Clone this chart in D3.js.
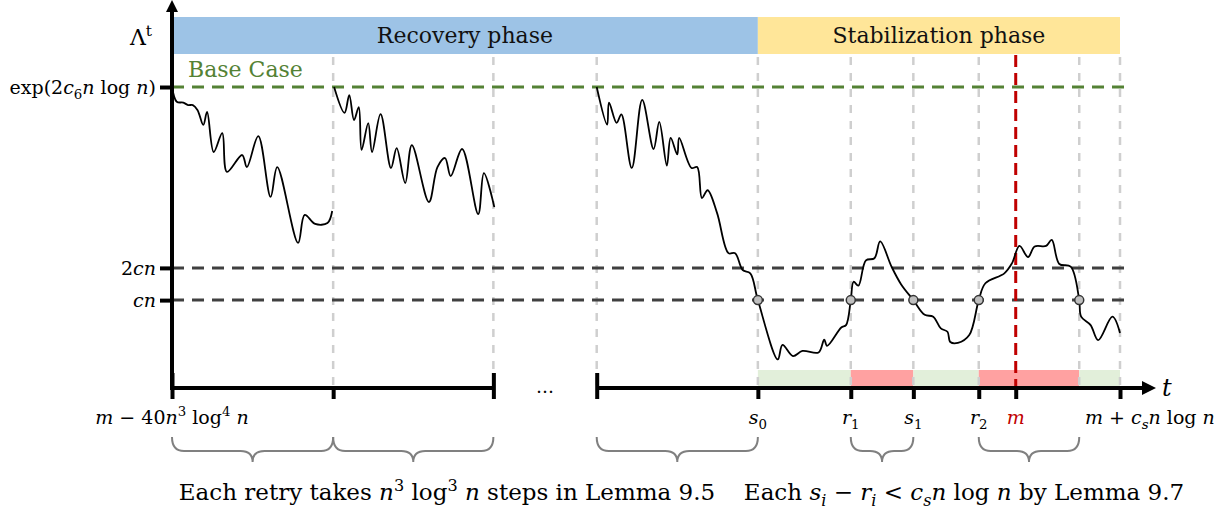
<!DOCTYPE html>
<html>
<head>
<meta charset="utf-8">
<script src="https://cdn.jsdelivr.net/npm/d3@7"></script>
<style>
  body { margin: 0; background: #fff; }
</style>
</head>
<body>
<div id="chart"></div>
<script>
// chart data (t runs 0..100 along the broken time axis, value 0..100 up the Λ axis)
var retry1 = [[0,100],[0.5,95.1],[1.2,94.8],[1.7,94.0],[2.2,94.0],[2.7,92.3],[3.3,87.4],[3.7,91.7],
  [4.4,78.4],[5.3,84.7],[5.8,71.8],[7.4,77.4],[7.9,73.4],[9.1,83.7],[10.4,63.5],[11.1,73.4],
  [13.3,48.2],[14.0,57.5],[15.1,54.5],[16.4,54.8],[16.9,58.8]];
var retry2 = [[17.1,100],[18.2,91.4],[18.7,97.3],[19.2,89.0],[19.7,93.3],[20.0,79.1],[20.7,88.0],
  [21.1,78.4],[22.0,91.0],[23.1,73.1],[23.7,79.7],[24.6,68.1],[25.3,80.7],[27.1,61.8],[28.0,73.4],
  [28.8,76.4],[29.4,70.4],[30.6,79.4],[32.3,57.8],[32.9,71.4],[34.0,60.1]];
var lastRun = [[44.8,100],[45.9,87.5],[46.1,94.8],[46.9,88.1],[47.4,90.9],[48.5,73.1],[49.6,95.7],
  [50.8,79.4],[51.4,88.4],[52.2,73.9],[52.6,83.1],[53.3,77.6],[53.5,83.1],[54.8,73.1],[55.4,73.4],
  [55.9,63.1],[56.5,65.7],[57.5,58.1],[58.7,44.8],[59.4,44.8],[60.2,39.2],[61.0,38.1],[61.8,29.2],
  [63.9,9.5],[64.4,14.3],[65.5,10.6],[66.5,12.3],[68.2,11.8],[68.8,16.1],[69.1,14.0],[70.6,20.1],
  [71.1,20.9],[71.6,29.2],[71.9,35.3],[72.4,34.0],[73.2,42.4],[74.1,43.1],[74.7,48.7],[75.9,40.3],
  [76.9,34.5],[78.2,29.2],[79.4,24.3],[80.3,23.7],[81.1,19.8],[81.8,18.7],[82.1,15.3],[82.9,15.0],
  [84.1,17.6],[85.1,29.2],[85.8,34.8],[87.8,38.1],[88.6,41.4],[89.4,47.2],[90.3,43.5],[91.0,47.0],
  [92.2,47.2],[92.8,49.2],[93.6,41.2],[94.8,40.3],[95.7,29.2],[95.9,23.7],[96.9,20.9],[97.7,15.9],
  [99.2,23.7],[100,18.3]];

var levelValues = [100, 39.9, 29.2];          // exp(2c6 n log n), 2cn, cn
var crossings = [61.8, 71.6, 78.2, 85.1, 95.7]; // where the walk meets cn
var gridTimes = [17, 33.9, 44.8, 61.8, 71.6, 78.2, 85.1, 95.7, 100];
var mTime = 89.0;
var axisSegments = [[0, 33.9], [44.8, 100]];
var fullTicks = [0, 33.9, 44.8];
var lowTicks = [17, 61.8, 71.6, 78.2, 85.1, 89.0, 100];
var phases = [
  {name: "Recovery phase", from: 0, to: 61.8, color: "#9dc3e6"},
  {name: "Stabilization phase", from: 61.8, to: 100, color: "#ffe699"}
];
var intervals = [[61.8,71.6,"good"],[71.6,78.2,"bad"],[78.2,85.1,"good"],[85.1,95.7,"bad"],[95.7,100,"good"]];
var braces = [[0,17],[17,33.9],[44.8,61.8],[71.6,78.2],[85.1,95.7]];

// tick / level labels as [text, style] parts
var levelLabels = [
  [["exp(2"],["c","i"],["6","sub"],["n","i"],[" log "],["n","i"],[")"]],
  [["2"],["cn","i"]],
  [["cn","i"]]
];
var tickLabels = [
  {t: 0, anchor: "middle", dx: 0, parts: [["m","i"],[" − 40"],["n","i"],["3","sup"],[" log"],["4","sup"],[" "],["n","i"]]},
  {t: 61.8, anchor: "middle", dx: 0, parts: [["s","i"],["0","sub"]]},
  {t: 71.6, anchor: "middle", dx: 0, parts: [["r","i"],["1","sub"]]},
  {t: 78.2, anchor: "middle", dx: 0, parts: [["s","i"],["1","sub"]]},
  {t: 85.1, anchor: "middle", dx: 0, parts: [["r","i"],["2","sub"]]},
  {t: 89.0, anchor: "middle", dx: 0, red: true, parts: [["m","i"]]},
  {t: 100, anchor: "start", dx: -35, parts: [["m","i"],[" + "],["c","i"],["s","subi"],["n","i"],[" log "],["n","i"]]}
];
var captions = [
  {x: 447, parts: [["Each retry takes "],["n","i"],["3","sup"],[" log"],["3","sup"],[" "],["n","i"],[" steps in Lemma 9.5"]]},
  {x: 964, parts: [["Each "],["s","i"],["i","subi"],[" − "],["r","i"],["i","subi"],[" < "],["c","i"],["s","subi"],["n","i"],[" log "],["n","i"],[" by Lemma 9.7"]]}
];

var svgWidth = 1224;
var svgHeight = 511;

var svg = d3.select("#chart")
    .append("svg")
    .attr("width", svgWidth)
    .attr("height", svgHeight)
    .attr("font-family", "DejaVu Serif");

var xScale = d3.scaleLinear().domain([0, 100]).range([172, 1120]);
var yScale = d3.scaleLinear().domain([0, 100]).range([388, 87]);

// rich text helper: italic, sub and superscripts
function rich(textSel, parts, size) {
  var shift = 0;
  parts.forEach(function (p) {
    var style = p[1] || "";
    var target = 0;
    var ts = textSel.append("tspan").text(p[0]);
    if (style === "i" || style === "subi") ts.attr("font-style", "italic");
    if (style === "sub" || style === "subi") { target = size * 0.28; ts.attr("font-size", size * 0.7); }
    if (style === "sup") { target = -size * 0.4; ts.attr("font-size", size * 0.7); }
    ts.attr("dy", target - shift);
    shift = target;
  });
}

// phase bands
svg.selectAll(".phase")
    .data(phases)
    .enter()
    .append("rect")
    .attr("x", d => xScale(d.from))
    .attr("y", 17)
    .attr("width", d => xScale(d.to) - xScale(d.from))
    .attr("height", 37)
    .attr("fill", d => d.color);

svg.selectAll(".phaseText")
    .data(phases)
    .enter()
    .append("text")
    .attr("x", d => (xScale(d.from) + xScale(d.to)) / 2)
    .attr("y", 43)
    .attr("text-anchor", "middle")
    .attr("font-size", "22px")
    .attr("fill", "#111")
    .text(d => d.name);

// good / bad intervals
svg.selectAll(".interval")
    .data(intervals)
    .enter()
    .append("rect")
    .attr("x", d => xScale(d[0]))
    .attr("y", 370)
    .attr("width", d => xScale(d[1]) - xScale(d[0]))
    .attr("height", 17)
    .attr("fill", d => d[2] === "good" ? "#e2efda" : "#ffa1a1");

// vertical grey guides
svg.selectAll(".guide")
    .data(gridTimes)
    .enter()
    .append("line")
    .attr("x1", d => xScale(d))
    .attr("x2", d => xScale(d))
    .attr("y1", 57)
    .attr("y2", yScale(0))
    .attr("stroke", "#cfcfcf")
    .attr("stroke-width", 2.5)
    .attr("stroke-dasharray", "8,8");

// horizontal levels
svg.selectAll(".level")
    .data(levelValues)
    .enter()
    .append("line")
    .attr("x1", xScale(0))
    .attr("x2", xScale(100) + 6)
    .attr("y1", d => yScale(d))
    .attr("y2", d => yScale(d))
    .attr("stroke", (d, i) => i === 0 ? "#548235" : "#404040")
    .attr("stroke-width", 3)
    .attr("stroke-dasharray", "12,8");

svg.append("text")
    .attr("x", 188)
    .attr("y", 77)
    .attr("font-size", "22px")
    .attr("fill", "#548235")
    .text("Base Case");

// red m line
svg.append("line")
    .attr("x1", xScale(mTime))
    .attr("x2", xScale(mTime))
    .attr("y1", 55)
    .attr("y2", yScale(0))
    .attr("stroke", "#c00000")
    .attr("stroke-width", 3)
    .attr("stroke-dasharray", "12,6");

// walks
var line = d3.line()
    .x(d => xScale(d[0]))
    .y(d => yScale(d[1]))
    .curve(d3.curveCatmullRom.alpha(0.5));

svg.selectAll(".walk")
    .data([retry1, retry2, lastRun])
    .enter()
    .append("path")
    .attr("d", line)
    .attr("fill", "none")
    .attr("stroke", "#000")
    .attr("stroke-width", 1.8);

svg.selectAll(".cross")
    .data(crossings)
    .enter()
    .append("circle")
    .attr("cx", d => xScale(d))
    .attr("cy", yScale(levelValues[2]))
    .attr("r", 4.5)
    .attr("fill", "#bfbfbf")
    .attr("stroke", "#333")
    .attr("stroke-width", 1.5);

// y axis
var yAxis = d3.axisLeft(yScale).tickValues(levelValues).tickFormat("").tickSize(12);
var yg = svg.append("g").attr("transform", `translate(${xScale(0)},0)`).call(yAxis);
yg.select(".domain").remove();
yg.selectAll(".tick line").attr("stroke", "#000").attr("stroke-width", 4);

svg.append("line")
    .attr("x1", xScale(0)).attr("x2", xScale(0))
    .attr("y1", yScale(0) + 2).attr("y2", 10)
    .attr("stroke", "#000").attr("stroke-width", 4);
svg.append("path")
    .attr("d", `M${xScale(0) - 6},12 L${xScale(0)},0 L${xScale(0) + 6},12 Z`)
    .attr("fill", "#000");

svg.selectAll(".levelLabel")
    .data(levelLabels)
    .enter()
    .append("text")
    .attr("x", 156)
    .attr("y", (d, i) => yScale(levelValues[i]) + 7)
    .attr("text-anchor", "end")
    .attr("font-size", "19px")
    .each(function (d) { rich(d3.select(this), d, 19); });

var lam = svg.append("text")
    .attr("x", 152).attr("y", 45)
    .attr("text-anchor", "end")
    .attr("font-size", "22px");
rich(lam, [["Λ"], ["t", "sup"]], 22);

// x axis segments
svg.selectAll(".seg")
    .data(axisSegments)
    .enter()
    .append("line")
    .attr("x1", d => xScale(d[0]))
    .attr("x2", (d, i) => i === 1 ? xScale(d[1]) + 30 : xScale(d[1]))
    .attr("y1", yScale(0))
    .attr("y2", yScale(0))
    .attr("stroke", "#000")
    .attr("stroke-width", 4);
svg.append("path")
    .attr("d", `M${xScale(100) + 22},${yScale(0) - 7} L${xScale(100) + 36},${yScale(0)} L${xScale(100) + 22},${yScale(0) + 7} Z`)
    .attr("fill", "#000");

var fullAxis = d3.axisBottom(xScale).tickValues(fullTicks).tickFormat("").tickSize(26);
var fg = svg.append("g").attr("transform", `translate(0,${yScale(0) - 15})`).call(fullAxis);
fg.select(".domain").remove();
fg.selectAll(".tick line").attr("stroke", "#000").attr("stroke-width", 4);

var lowAxis = d3.axisBottom(xScale).tickValues(lowTicks).tickFormat("").tickSize(11);
var lg = svg.append("g").attr("transform", `translate(0,${yScale(0)})`).call(lowAxis);
lg.select(".domain").remove();
lg.selectAll(".tick line").attr("stroke", "#000").attr("stroke-width", 4);

svg.append("text")
    .attr("x", (xScale(33.9) + xScale(44.8)) / 2)
    .attr("y", yScale(0) + 5)
    .attr("text-anchor", "middle")
    .attr("font-size", "18px")
    .text("…");

svg.append("text")
    .attr("x", xScale(100) + 42)
    .attr("y", yScale(0) + 8)
    .attr("font-size", "24px")
    .attr("font-style", "italic")
    .text("t");

svg.selectAll(".tickLabel")
    .data(tickLabels)
    .enter()
    .append("text")
    .attr("x", d => xScale(d.t) + d.dx)
    .attr("y", 424)
    .attr("text-anchor", d => d.anchor)
    .attr("font-size", "19px")
    .attr("fill", d => d.red ? "#c00000" : "#000")
    .each(function (d) { rich(d3.select(this), d.parts, 19); });

// braces
function bracePath(d) {
  var x0 = xScale(d[0]), x1 = xScale(d[1]), xm = (x0 + x1) / 2;
  var y0 = 437, y1 = 451, y2 = 462, r = 12;
  return `M${x0},${y0} Q${x0},${y1} ${x0 + r},${y1} L${xm - r},${y1} Q${xm},${y1} ${xm},${y2}` +
    ` Q${xm},${y1} ${xm + r},${y1} L${x1 - r},${y1} Q${x1},${y1} ${x1},${y0}`;
}
svg.selectAll(".brace")
    .data(braces)
    .enter()
    .append("path")
    .attr("d", bracePath)
    .attr("fill", "none")
    .attr("stroke", "#808080")
    .attr("stroke-width", 2);

svg.selectAll(".caption")
    .data(captions)
    .enter()
    .append("text")
    .attr("x", d => d.x)
    .attr("y", 500)
    .attr("text-anchor", "middle")
    .attr("font-size", "23px")
    .each(function (d) { rich(d3.select(this), d.parts, 23); });
</script>
</body>
</html>
